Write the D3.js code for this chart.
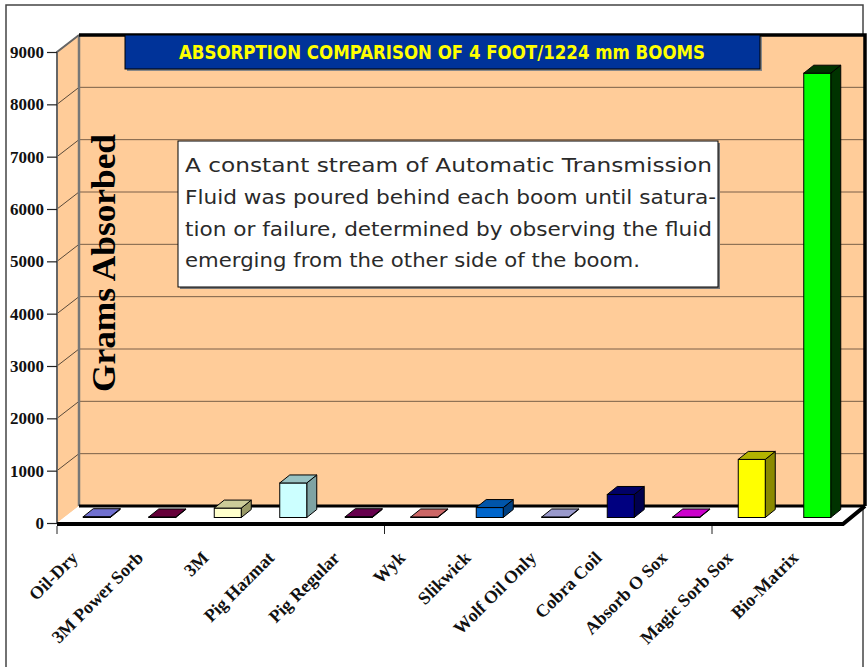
<!DOCTYPE html>
<html>
<head>
<meta charset="utf-8">
<script src="https://cdn.jsdelivr.net/npm/d3@7"></script>
<style>
  body { margin: 0; background: #fff; }
  svg { display: block; }
</style>
</head>
<body>
<div id="chart"></div>
<script>
// data
var categories = ["Oil-Dry", "3M Power Sorb", "3M", "Pig Hazmat", "Pig Regular", "Wyk",
  "Slikwick", "Wolf Oil Only", "Cobra Coil", "Absorb O Sox", "Magic Sorb Sox", "Bio-Matrix"];
var grams = [15, 10, 180, 660, 15, 10, 190, 10, 440, 10, 1110, 8490];
var yTicks = [0, 1000, 2000, 3000, 4000, 5000, 6000, 7000, 8000, 9000];
var titleText = "ABSORPTION COMPARISON OF 4 FOOT/1224 mm BOOMS";
var noteLines = [
  "A constant stream of Automatic Transmission",
  "Fluid was poured behind each boom until satura-",
  "tion or failure, determined by observing the fluid",
  "emerging from the other side of the boom."
];

// colours per bar: front, side, top
var frontColors = ["#6b6bcf", "#66003a", "#ffffcc", "#ccffff", "#66004d", "#cc6666",
  "#0066cc", "#9999cc", "#000080", "#cc00cc", "#ffff00", "#00ff00"];
var sideColors = ["#3d3d80", "#3a0020", "#999966", "#7fa3a3", "#3a002a", "#803c3c",
  "#003f80", "#5c5c80", "#00004d", "#800080", "#8a8a00", "#003300"];
var topColors = ["#7070d0", "#66003a", "#cccc99", "#99c2c2", "#66004d", "#cc6666",
  "#0055aa", "#9999cc", "#000066", "#cc00cc", "#b3b300", "#003300"];

var svgWidth = 867, svgHeight = 667;

var svg = d3.select("#chart").append("svg")
  .attr("width", svgWidth)
  .attr("height", svgHeight);

// outer frame
svg.append("rect")
  .attr("x", 6).attr("y", 5).attr("width", 857).attr("height", 680)
  .attr("fill", "none").attr("stroke", "#444").attr("stroke-width", 1.5);

// front plane scales
var x = d3.scaleBand().domain(categories).range([57, 843]);
var y = d3.scaleLinear().domain([0, 9000]).range([523, 52]);

// depth of the 3d box
var dx = 22, dy = -17;
var left = x.range()[0], right = x.range()[1];

var wall = "#ffcc99";

// back wall
svg.append("rect")
  .attr("x", left + dx).attr("y", y(9000) + dy)
  .attr("width", right - left).attr("height", y(0) - y(9000))
  .attr("fill", wall);

// side wall
svg.append("path")
  .attr("d", `M${left},${y(0)} L${left},${y(9000)} L${left + dx},${y(9000) + dy} L${left + dx},${y(0) + dy} Z`)
  .attr("fill", wall);

// gridlines on back and side wall
var grid = svg.append("g");
grid.selectAll(".gb")
  .data(yTicks.filter(d => d > 0 && d < 9000))
  .enter().append("line")
  .attr("x1", left + dx).attr("x2", right + dx)
  .attr("y1", d => y(d) + dy).attr("y2", d => y(d) + dy)
  .attr("stroke", "#7a5f48").attr("stroke-width", 1);
grid.selectAll(".gs")
  .data(yTicks.filter(d => d > 0))
  .enter().append("line")
  .attr("x1", left).attr("x2", left + dx)
  .attr("y1", d => y(d)).attr("y2", d => y(d) + dy)
  .attr("stroke", "#5a4a3a").attr("stroke-width", 1);

// floor
svg.append("path")
  .attr("d", `M${left},${y(0)} L${right},${y(0)} L${right + dx},${y(0) + dy} L${left + dx},${y(0) + dy} Z`)
  .attr("fill", "#fff");

// wall edges
svg.append("path")
  .attr("d", `M${left + dx},${y(0) + dy} L${left + dx},${y(9000) + dy}`)
  .attr("stroke", "#777").attr("stroke-width", 2.5).attr("fill", "none");
svg.append("path")
  .attr("d", `M${left},${y(0)} L${left},${y(9000)} L${left + dx},${y(9000) + dy}`)
  .attr("stroke", "#666").attr("stroke-width", 2).attr("fill", "none");
svg.append("path")
  .attr("d", `M${left + dx},${y(9000) + dy} L${right + dx},${y(9000) + dy} L${right + dx},${y(0) + dy}`)
  .attr("stroke", "#000").attr("stroke-width", 3.5).attr("fill", "none");
svg.append("path")
  .attr("d", `M${left + dx},${y(0) + dy} L${right + dx},${y(0) + dy}`)
  .attr("stroke", "#000").attr("stroke-width", 3).attr("fill", "none");
svg.append("path")
  .attr("d", `M${left},${y(0) + 1} L${right},${y(0) + 1} L${right + dx},${y(0) + dy}`)
  .attr("stroke", "#000").attr("stroke-width", 4).attr("fill", "none");

// bars
var barW = 27, ox = 7, oy = -5.5, bdx = 10, bdy = -8;
var bars = svg.append("g").selectAll("g")
  .data(grams)
  .enter().append("g");

function bx(i) { return x(categories[i]) + (x.bandwidth() - barW) / 2 + ox; }

bars.append("path") // side
  .attr("d", (d, i) => {
    var x0 = bx(i) + barW, yb = y(0) + oy, yt = y(d) + oy;
    return `M${x0},${yb} L${x0},${yt} L${x0 + bdx},${yt + bdy} L${x0 + bdx},${yb + bdy} Z`;
  })
  .attr("fill", (d, i) => sideColors[i])
  .attr("stroke", "#000").attr("stroke-width", 1).attr("stroke-linejoin", "round");
bars.append("rect") // front
  .attr("x", (d, i) => bx(i))
  .attr("y", d => y(d) + oy)
  .attr("width", barW)
  .attr("height", d => y(0) - y(d))
  .attr("fill", (d, i) => frontColors[i])
  .attr("stroke", "#000").attr("stroke-width", 1);
bars.append("path") // top
  .attr("d", (d, i) => {
    var x0 = bx(i), yt = y(d) + oy;
    return `M${x0},${yt} L${x0 + barW},${yt} L${x0 + barW + bdx},${yt + bdy} L${x0 + bdx},${yt + bdy} Z`;
  })
  .attr("fill", (d, i) => topColors[i])
  .attr("stroke", "#000").attr("stroke-width", 1).attr("stroke-linejoin", "round");

// y axis on the front left edge
var yAxis = d3.axisLeft(y).tickValues(yTicks).tickFormat(d3.format("d")).tickSize(10).tickPadding(3);
var yg = svg.append("g")
  .attr("transform", `translate(${left},0)`)
  .call(yAxis);
yg.select(".domain").remove();
yg.selectAll(".tick line").attr("stroke", "#222").attr("stroke-width", 1.2);
yg.selectAll(".tick text")
  .attr("font-family", "'Liberation Serif', 'Times New Roman', serif")
  .attr("font-weight", "bold")
  .attr("font-size", 17)
  .attr("fill", "#111");

// x ticks below floor, every fifth category
svg.append("g").selectAll("line")
  .data([0, 5, 10])
  .enter().append("line")
  .attr("x1", i => x(categories[i])).attr("x2", i => x(categories[i]))
  .attr("y1", y(0) + 3).attr("y2", y(0) + 11)
  .attr("stroke", "#222").attr("stroke-width", 1);

// x labels
svg.append("g").selectAll("text")
  .data(categories)
  .enter().append("text")
  .attr("transform", d => `translate(${x(d) + x.bandwidth() / 2 - 11},${559}) rotate(-45)`)
  .attr("text-anchor", "end")
  .attr("font-family", "'Liberation Serif', 'Times New Roman', serif")
  .attr("font-weight", "bold")
  .attr("font-size", 18)
  .attr("fill", "#111")
  .text(d => d);

// y axis title on the side of the back wall
svg.append("text")
  .attr("transform", "translate(115,263) rotate(-90)")
  .attr("text-anchor", "middle")
  .attr("font-family", "'Liberation Serif', 'Times New Roman', serif")
  .attr("font-weight", "bold")
  .attr("font-size", 34)
  .attr("textLength", 258)
  .attr("lengthAdjust", "spacingAndGlyphs")
  .attr("fill", "#000")
  .text("Grams Absorbed");

// title box
svg.append("rect")
  .attr("x", 127).attr("y", 37).attr("width", 635).attr("height", 34)
  .attr("fill", "#888");
svg.append("rect")
  .attr("x", 125).attr("y", 35).attr("width", 635).attr("height", 34)
  .attr("fill", "#003399").attr("stroke", "#000").attr("stroke-width", 1);
svg.append("text")
  .attr("x", 442).attr("y", 59)
  .attr("text-anchor", "middle")
  .attr("font-family", "'Liberation Sans Narrow', 'DejaVu Sans Condensed', 'Arial Narrow', sans-serif")
  .attr("font-weight", "bold")
  .attr("font-size", 19)
  .attr("textLength", 526)
  .attr("lengthAdjust", "spacingAndGlyphs")
  .attr("fill", "#ffff00")
  .text(titleText);

// note box
svg.append("rect")
  .attr("x", 180).attr("y", 143).attr("width", 540).attr("height", 146)
  .attr("fill", "#777");
svg.append("rect")
  .attr("x", 178).attr("y", 141).attr("width", 540).attr("height", 146)
  .attr("fill", "#fff").attr("stroke", "#000").attr("stroke-width", 1);
var noteLens = [527, 531, 527, 455];
svg.append("g").selectAll("text")
  .data(noteLines)
  .enter().append("text")
  .attr("x", 185)
  .attr("y", (d, i) => 172 + i * 31.8)
  .attr("font-family", "'DejaVu Sans', sans-serif")
  .attr("font-size", 20)
  .attr("fill", "#2a2a2a")
  .attr("textLength", (d, i) => noteLens[i])
  .attr("lengthAdjust", "spacingAndGlyphs")
  .text(d => d);
</script>
</body>
</html>
